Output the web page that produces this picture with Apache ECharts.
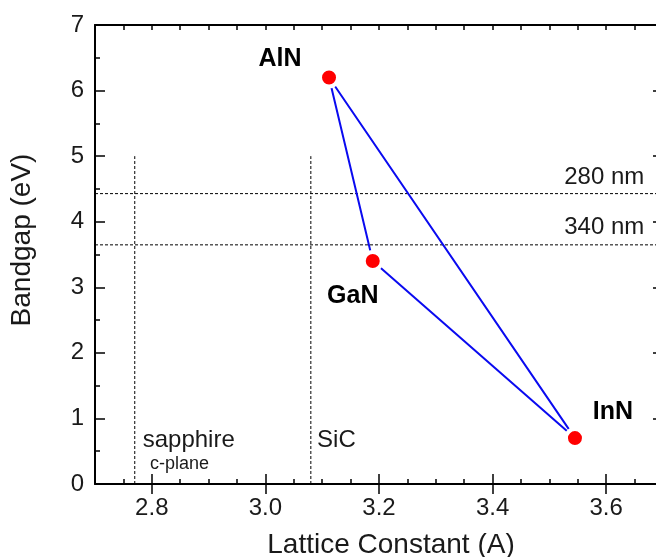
<!DOCTYPE html>
<html>
<head>
<meta charset="utf-8">
<script src="https://cdn.jsdelivr.net/npm/echarts@6/dist/echarts.min.js"></script>
<style>
  html, body { margin: 0; padding: 0; background: #fff; }
  #chart { width: 656px; height: 557px; }
</style>
</head>
<body>
<div id="chart"></div>
<script>
// III-nitride compounds: lattice constant a (Å) and bandgap (eV)
const compounds = ['AlN', 'GaN', 'InN'];
const latticeConstant = [3.112, 3.189, 3.545];
const bandgap = [6.2, 3.4, 0.7];
const labelOffsets = [[-49, -18], [-20, 35], [38, -26]];

// Substrate lattice references (vertical dashed lines up to 5 eV)
const substrateNames = ['sapphire', 'SiC'];
const substrateLattice = [2.77, 3.08];
const substrateLineTop = 5;

// Emission wavelengths (nm) drawn as horizontal dashed lines
const wavelengthsNm = [280, 340];

// Axis ticks
const xTickLabels = [2.8, 3.0, 3.2, 3.4, 3.6];
const yTickLabels = [0, 1, 2, 3, 4, 5, 6, 7];
const xMin = 2.7, xMax = 3.7, yMin = 0, yMax = 7;

const FONT = '"Liberation Sans", Arial, Helvetica, sans-serif';
const photonEV = nm => 1240 / nm;

const chart = echarts.init(document.getElementById('chart'), null, { renderer: 'canvas' });

const tri = [0, 1, 2, 0].map(i => [latticeConstant[i], bandgap[i]]);

const dashed = { color: '#000', width: 1, type: [3, 2] };
const refSeries = [];
substrateLattice.forEach((a, i) => {
  refSeries.push({
    name: substrateNames[i], type: 'line', silent: true, symbol: 'none',
    data: [[a, yMin], [a, substrateLineTop]], lineStyle: dashed, z: 1
  });
});
wavelengthsNm.forEach(nm => {
  const e = photonEV(nm);
  refSeries.push({
    name: nm + ' nm', type: 'line', silent: true, symbol: 'none',
    data: [[xMin, e], [xMax, e]], lineStyle: dashed, z: 1
  });
});

const baseX = {
  type: 'value', min: xMin, max: xMax, gridIndex: 0,
  splitLine: { show: false },
  axisLine: { show: true, onZero: false, lineStyle: { color: '#000', width: 2 } }
};
const baseY = {
  type: 'value', min: yMin, max: yMax, interval: 1,
  splitLine: { show: false },
  axisLine: { show: true, onZero: false, lineStyle: { color: '#000', width: 2 } },
  axisTick: { show: true, inside: true, length: 10, lineStyle: { color: '#000', width: 1.5 } },
  minorTick: { show: true, splitNumber: 2, length: 5, lineStyle: { color: '#000', width: 1.5 } }
};
const minorTickX = { show: true, inside: true, length: 5, lineStyle: { color: '#000', width: 1.5 } };
const majorTickX = { show: true, inside: true, length: 10, customValues: xTickLabels, lineStyle: { color: '#000', width: 1.5 } };

chart.setOption({
  animation: false,
  backgroundColor: '#fff',
  grid: { left: 95, top: 25, right: -7, bottom: 73, containLabel: false, outerBoundsMode: 'none' },
  xAxis: [
    Object.assign({}, baseX, {
      position: 'bottom', interval: 0.05, axisTick: minorTickX,
      axisLabel: {
        show: true, customValues: xTickLabels, margin: 12,
        formatter: v => v.toFixed(1), color: '#1a1a1a', fontSize: 24, fontFamily: FONT
      }
    }),
    Object.assign({}, baseX, {
      position: 'bottom', axisLine: { show: false }, axisTick: majorTickX, axisLabel: { show: false }
    }),
    Object.assign({}, baseX, {
      position: 'top', interval: 0.05, axisTick: minorTickX, axisLabel: { show: false }
    }),
    Object.assign({}, baseX, {
      position: 'top', axisLine: { show: false }, axisTick: majorTickX, axisLabel: { show: false }
    })
  ],
  yAxis: [
    Object.assign({}, baseY, {
      position: 'left',
      axisLabel: {
        show: true, customValues: yTickLabels, margin: 11,
        formatter: v => String(v), color: '#1a1a1a', fontSize: 24, fontFamily: FONT
      }
    }),
    Object.assign({}, baseY, { position: 'right', axisLabel: { show: false } })
  ],
  series: refSeries.concat([
    {
      name: 'triangle', type: 'line', silent: true, symbol: 'none',
      data: tri, lineStyle: { color: '#0a0af0', width: 2 }, z: 2
    },
    {
      name: 'compounds', type: 'scatter', silent: true,
      symbol: 'circle', symbolSize: 18,
      itemStyle: { color: '#ff0000', borderColor: '#ffffff', borderWidth: 4, opacity: 1 },
      data: compounds.map((n, i) => ({
        name: n, value: [latticeConstant[i], bandgap[i]],
        label: { offset: labelOffsets[i] }
      })),
      label: {
        show: true, position: 'inside', formatter: p => p.name,
        color: '#000', fontSize: 25, fontWeight: 'bold', fontFamily: FONT
      },
      z: 5
    }
  ])
});

// Annotation text placed in data coordinates
const notes = [
  { text: 'sapphire', at: [2.784, 0.67], size: 24, align: 'left' },
  { text: 'c-plane', at: [2.797, 0.30], size: 18, align: 'left' },
  { text: 'SiC', at: [3.091, 0.67], size: 24, align: 'left' },
  { text: '280 nm', at: [3.667, 4.675], size: 24, align: 'right' },
  { text: '340 nm', at: [3.667, 3.92], size: 24, align: 'right' }
];
const graphics = notes.map(n => {
  const p = chart.convertToPixel({ gridIndex: 0 }, n.at);
  return {
    type: 'text', x: p[0], y: p[1], silent: true,
    style: { text: n.text, fill: '#1a1a1a', font: n.size + 'px ' + FONT, align: n.align, verticalAlign: 'middle' }
  };
});
graphics.push({
  type: 'text', x: 391, y: 545, silent: true,
  style: { text: 'Lattice Constant (A)', fill: '#1a1a1a', font: '28px ' + FONT, align: 'center', verticalAlign: 'middle' }
});
graphics.push({
  type: 'text', x: 22, y: 240, rotation: Math.PI / 2, silent: true,
  style: { text: 'Bandgap (eV)', fill: '#1a1a1a', font: '28px ' + FONT, align: 'center', verticalAlign: 'middle' }
});
chart.setOption({ graphic: graphics });
</script>
</body>
</html>
